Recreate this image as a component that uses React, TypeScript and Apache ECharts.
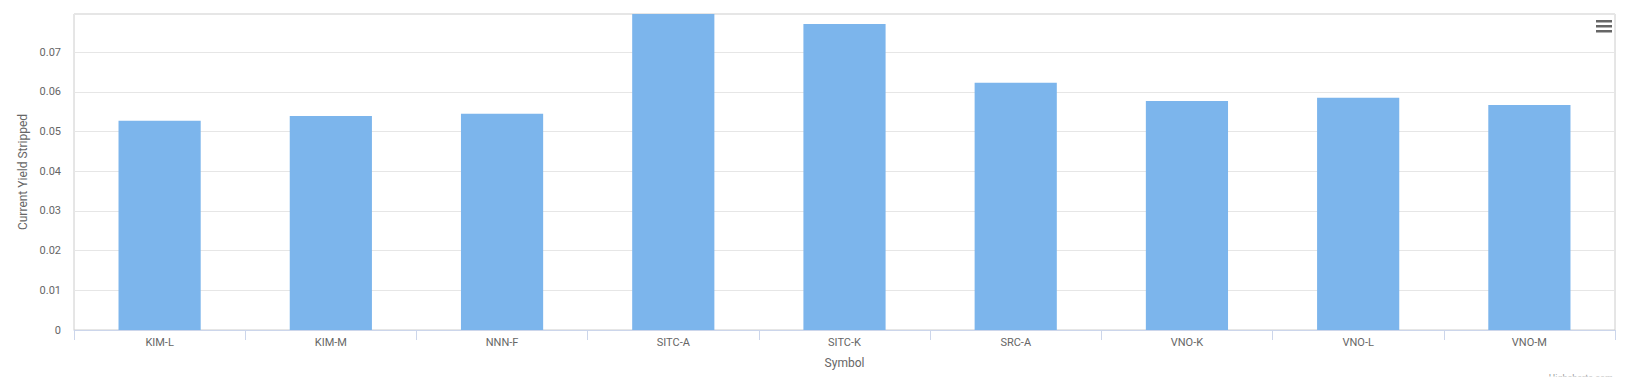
import React, { useEffect, useRef } from "react";
import * as echarts from "echarts";

const categories = ["KIM-L", "KIM-M", "NNN-F", "SITC-A", "SITC-K", "SRC-A", "VNO-K", "VNO-L", "VNO-M"];
const yieldValues = [0.0527, 0.0539, 0.0545, 0.0796, 0.0771, 0.0623, 0.0577, 0.0585, 0.0567];
const yAxisTitle = "Current Yield Stripped";
const xAxisTitle = "Symbol";
const creditText = "Highcharts.com";

export default function App() {
  const ref = useRef<HTMLDivElement>(null);
  useEffect(() => {
    if (!ref.current) return;
    const chart = echarts.init(ref.current, undefined, { renderer: "svg" });
    const font = "Roboto, 'Open Sans', sans-serif";
    chart.setOption({
      animation: false,
      textStyle: { fontFamily: font },
      grid: {
        left: 74,
        right: 12,
        top: 14,
        bottom: 58,
        show: true,
        borderColor: "#cccccc",
        borderWidth: 1,
        containLabel: false,
      },
      xAxis: {
        type: "category",
        data: categories,
        name: xAxisTitle,
        nameLocation: "middle",
        nameGap: 27,
        nameTextStyle: { color: "#666666", fontSize: 12, fontFamily: font },
        axisLine: { lineStyle: { color: "#ccd6eb" } },
        axisTick: { show: true, length: 10, lineStyle: { color: "#ccd6eb" } },
        axisLabel: { color: "#666666", fontSize: 11, margin: 7, fontFamily: font },
        splitLine: { show: false },
      },
      yAxis: {
        type: "value",
        min: 0,
        max: "dataMax",
        interval: 0.01,
        name: yAxisTitle,
        nameLocation: "middle",
        nameGap: 41,
        nameTextStyle: { color: "#666666", fontSize: 12, fontFamily: font },
        axisLine: { show: false },
        axisTick: { show: false },
        axisLabel: {
          color: "#666666",
          fontSize: 11,
          margin: 13,
          fontFamily: font,
          showMaxLabel: false,
        },
        splitLine: { lineStyle: { color: "#e6e6e6" } },
      },
      series: [
        {
          type: "bar",
          data: yieldValues,
          barWidth: "48%",
          itemStyle: { color: "#7cb5ec" },
        },
      ],
      graphic: [
        { type: "rect", shape: { x: 1596, y: 20, width: 16, height: 2.5 }, style: { fill: "#666666" } },
        { type: "rect", shape: { x: 1596, y: 25, width: 16, height: 2.5 }, style: { fill: "#666666" } },
        { type: "rect", shape: { x: 1596, y: 30, width: 16, height: 2.5 }, style: { fill: "#666666" } },
        {
          type: "text",
          right: 14,
          top: 373,
          style: { text: creditText, fill: "#999999", fontSize: 9, fontFamily: font },
        },
        {
          type: "rect",
          shape: { x: 1500, y: 376.5, width: 127, height: 12 },
          style: { fill: "#ffffff" },
          z: 100,
        },
      ],
    });
    return () => chart.dispose();
  }, []);
  return (
    <div
      ref={ref}
      style={{ position: "absolute", left: 0, top: 0, width: 1627, height: 388, background: "#ffffff" }}
    />
  );
}
